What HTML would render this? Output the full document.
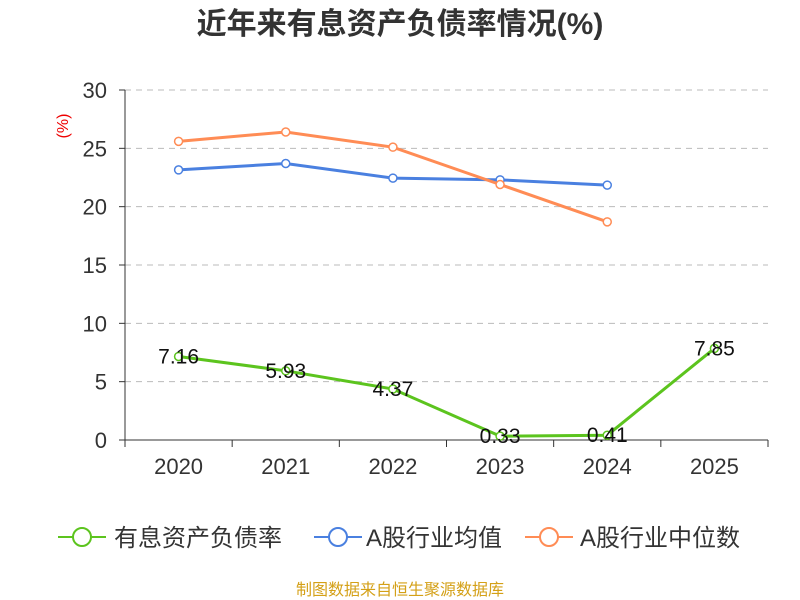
<!DOCTYPE html>
<html><head><meta charset="utf-8"><style>
body{margin:0;background:#fff;}
svg{display:block;font-family:"Liberation Sans","Noto Sans CJK SC",sans-serif;}
</style></head><body>
<svg id="chart" width="800" height="600">
<text x="400" y="34" text-anchor="middle" font-size="30" font-weight="bold" fill="#333">近年来有息资产负债率情况(%)</text>
<text x="68" y="126" transform="rotate(-90 68 126)" text-anchor="middle" font-size="16" fill="#e00">(%)</text>
<g id="grid"></g><g id="axes"></g><g id="series"></g>
<g>
<g><line x1="58" y1="537" x2="106" y2="537" stroke="#5cc41e" stroke-width="2"/><circle cx="82" cy="537" r="9" fill="#fff" stroke="#5cc41e" stroke-width="2"/><text x="114" y="546" font-size="24" fill="#333">有息资产负债率</text></g>
<g><line x1="314" y1="537" x2="362" y2="537" stroke="#4a80e0" stroke-width="2"/><circle cx="338" cy="537" r="9" fill="#fff" stroke="#4a80e0" stroke-width="2"/><text x="366" y="546" font-size="24" fill="#333">A股行业均值</text></g>
<g><line x1="525" y1="537" x2="573" y2="537" stroke="#ff8c55" stroke-width="2"/><circle cx="549" cy="537" r="9" fill="#fff" stroke="#ff8c55" stroke-width="2"/><text x="580" y="546" font-size="24" fill="#333">A股行业中位数</text></g>
</g>
<text x="400" y="595" text-anchor="middle" font-size="16" fill="#d4a017">制图数据来自恒生聚源数据库</text>
</svg>
<script>
const categories=["2020","2021","2022","2023","2024","2025"];
const debtRatio=[7.16,5.93,4.37,0.33,0.41,7.85];
const industryMean=[23.15,23.7,22.45,22.3,21.85];
const industryMedian=[25.6,26.4,25.1,21.9,18.7];
const yTicks=[0,5,10,15,20,25,30];
const NS="http://www.w3.org/2000/svg";
const x0=125,x1=768,yb=440,yt=90,ymax=30;
const bw=(x1-x0)/categories.length;
const X=i=>x0+bw*(i+0.5);
const Y=v=>yb-(v/ymax)*(yb-yt);
function mk(t,a,p){const e=document.createElementNS(NS,t);for(const k in a)e.setAttribute(k,a[k]);p.appendChild(e);return e;}
const grid=document.getElementById('grid'),axes=document.getElementById('axes'),ser=document.getElementById('series');
yTicks.forEach(v=>{
 if(v>0){const g=mk('line',{x1:x0,x2:x1,y1:Y(v),y2:Y(v),stroke:'#bbb','stroke-dasharray':'6,5'},grid);
 
 }
 const t=mk('text',{x:x0-18,y:Y(v)+8,'text-anchor':'end','font-size':'22',fill:'#333'},axes);t.textContent=v;
 
 
 mk('line',{x1:x0-6,x2:x0,y1:Y(v),y2:Y(v),stroke:'#333'},axes);
});
const ya=mk('line',{x1:x0,x2:x0,y1:yt,y2:yb,stroke:'#333'},axes);


const xa=mk('line',{x1:x0,x2:x1,y1:yb,y2:yb,stroke:'#333'},axes);


for(let i=0;i<=categories.length;i++)mk('line',{x1:x0+bw*i,x2:x0+bw*i,y1:yb,y2:yb+7,stroke:'#333'},axes);
categories.forEach((c,i)=>{const t=mk('text',{x:X(i),y:yb+34,'text-anchor':'middle','font-size':'22',fill:'#333'},axes);t.textContent=c;
 
 });
function line(data,color,name,labels){
 const pts=data.map((v,i)=>X(i)+','+Y(v)).join(' ');
 const pl=mk('polyline',{points:pts,fill:'none',stroke:color,'stroke-width':3},ser);
 
 
 data.forEach((v,i)=>{const c=mk('circle',{cx:X(i),cy:Y(v),r:4,fill:'#fff',stroke:color,'stroke-width':1.5},ser);
  
  
  if(labels){const t=mk('text',{x:X(i),y:Y(v)+7,'text-anchor':'middle','font-size':'21',fill:'#111'},ser);t.textContent=v.toFixed(2);
   
   }
 });
}
line(industryMean,'#4a80e0','industry-mean',false);
line(industryMedian,'#ff8c55','industry-median',false);
line(debtRatio,'#5cc41e','debt-ratio',true);
</script>
</body></html>
